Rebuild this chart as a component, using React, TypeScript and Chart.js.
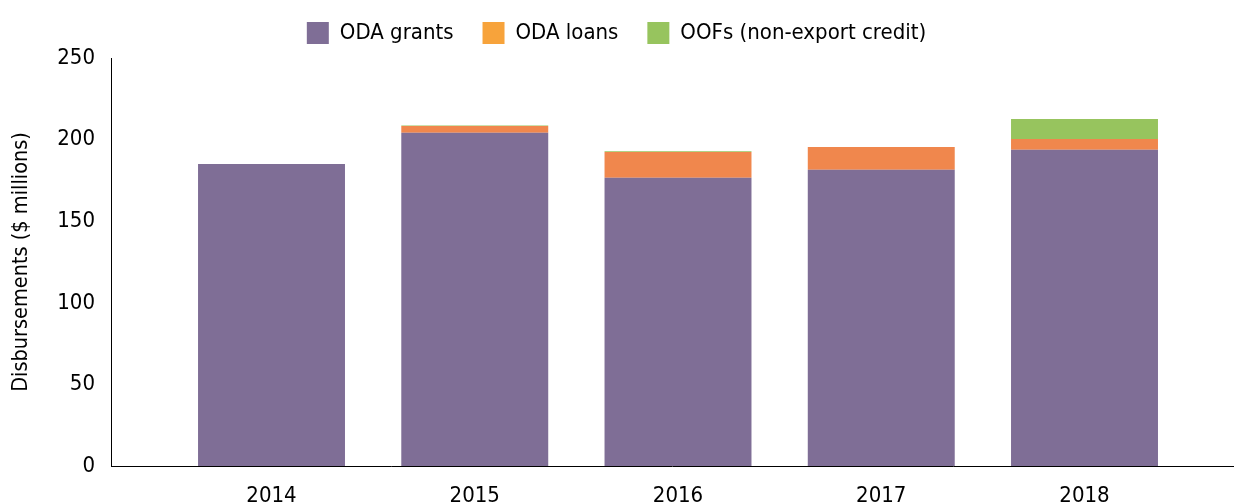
import React, { useEffect, useRef } from "react";
import { Chart, registerables } from "chart.js";

Chart.register(...registerables);

const years = ["2014", "2015", "2016", "2017", "2018"];
const odaGrants = [185.0, 204.2, 176.7, 181.6, 193.8];
const odaLoans = [0, 4.1, 15.7, 13.9, 6.5];
const oofs = [0, 0.4, 0.5, 0, 12.3];
const seriesNames = ["ODA grants", "ODA loans", "OOFs (non-export credit)"];
const barColors = ["#7f6e96", "#f0874d", "#97c45e"];
const legendColors = ["#7f6e96", "#f7a33b", "#97c45e"];
const yTicks = [0, 50, 100, 150, 200, 250];

const FONT = '"DejaVu Sans Condensed", "DejaVu Sans", sans-serif';

const legendHeightPlugin = {
  id: "legendHeightPlugin",
  afterInit(chart: any) {
    const legend = chart.legend;
    if (!legend || legend.__patched) return;
    const orig = legend.fit.bind(legend);
    legend.fit = () => {
      orig();
      legend.height += 4;
    };
    legend.__patched = true;
  },
};

export default function App() {
  const ref = useRef<HTMLCanvasElement | null>(null);

  useEffect(() => {
    if (!ref.current) return;
    const toPoints = (arr: number[]) => arr.map((v, i) => ({ x: i, y: v }));
    const chart = new Chart(ref.current, {
      type: "bar",
      data: {
        datasets: [odaGrants, odaLoans, oofs].map((arr, k) => ({
          label: seriesNames[k],
          data: toPoints(arr),
          backgroundColor: barColors[k],
          borderWidth: 0,
          categoryPercentage: 1,
          barPercentage: 0.723,
        })),
      },
      plugins: [legendHeightPlugin],
      options: {
        animation: false,
        responsive: false,
        maintainAspectRatio: false,
        layout: { padding: { left: 0, right: 1, top: -7, bottom: 0 } },
        plugins: {
          tooltip: { enabled: false },
          legend: {
            position: "top",
            labels: {
              font: { family: FONT, size: 22 },
              color: "#000",
              boxWidth: 22,
              boxHeight: 22,
              padding: 29,
              generateLabels: (c: any) => {
                const items = Chart.defaults.plugins.legend.labels.generateLabels(c);
                return items.map((it: any, i: number) => ({
                  ...it,
                  fillStyle: legendColors[i],
                  strokeStyle: legendColors[i],
                  lineWidth: 0,
                }));
              },
            },
          },
        },
        scales: {
          x: {
            type: "linear",
            stacked: true,
            offset: false,
            min: -0.7897,
            max: 4.7306,
            grid: { display: false, offset: false },
            border: { display: true, color: "#000", width: 1 },
            afterBuildTicks: (axis: any) => {
              axis.ticks = years.map((_, i) => ({ value: i }));
            },
            afterFit: (scale: any) => {
              scale.height = 38;
            },
            ticks: {
              padding: 9,
              autoSkip: false,
              maxRotation: 0,
              color: "#000",
              font: { family: FONT, size: 22 },
              callback: (v: any) => years[Math.round(Number(v))] ?? "",
            },
          },
          y: {
            stacked: true,
            min: 0,
            max: 250,
            grid: { display: false },
            border: { display: true, color: "#000", width: 1 },
            afterBuildTicks: (axis: any) => {
              axis.ticks = yTicks.map((v) => ({ value: v }));
            },
            afterFit: (scale: any) => {
              scale.width = 111;
            },
            ticks: {
              padding: 8,
              color: "#000",
              font: { family: FONT, size: 22 },
            },
            title: {
              display: true,
              text: "Disbursements ($ millions)",
              color: "#000",
              font: { family: FONT, size: 21.5 },
              padding: { top: 9, bottom: 0 },
            },
          },
        },
      },
    } as any);
    return () => chart.destroy();
  }, []);

  return (
    <div style={{ position: "absolute", left: 0, top: 0, width: 1234, height: 504 }}>
      <canvas ref={ref} width={1234} height={504} style={{ display: "block" }} />
    </div>
  );
}
